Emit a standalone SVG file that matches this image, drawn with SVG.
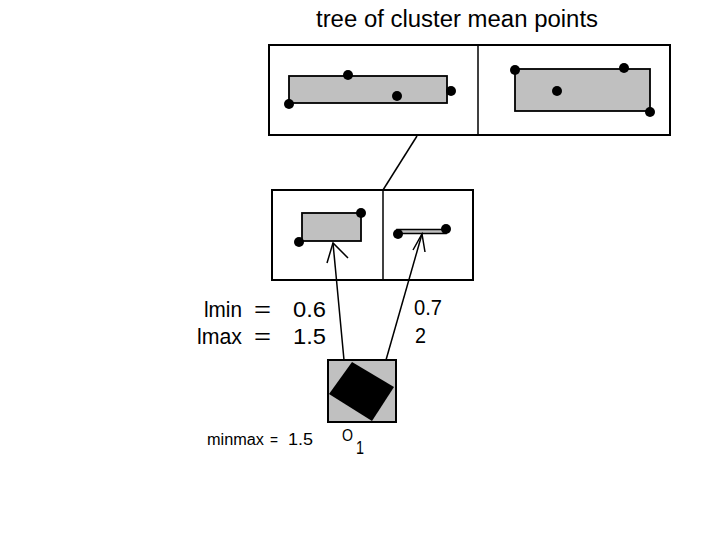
<svg xmlns="http://www.w3.org/2000/svg" width="720" height="540" viewBox="0 0 720 540">
<style>
.box{fill:#fff;stroke:#000;stroke-width:2}
.g{fill:#c0c0c0;stroke:#000;stroke-width:1.8}
.dot{fill:#000}
.ln{stroke:#000;stroke-width:1.5;fill:none}
text{font-family:"Liberation Sans",Arial,sans-serif;fill:#000}
.big{font-size:22px}
.sm{font-size:16px}
</style>
<rect width="720" height="540" fill="#fff"/>
<text x="316" y="27" font-size="23" textLength="282" lengthAdjust="spacingAndGlyphs">tree of cluster mean points</text>
<g id="root">
<rect class="box" x="269" y="45" width="401" height="90"/>
<line class="ln" x1="478" y1="45" x2="478" y2="135" stroke-width="2"/>
<rect class="g" x="289" y="76" width="158" height="27"/>
<circle class="dot" cx="289" cy="104" r="5"/>
<circle class="dot" cx="348" cy="75" r="5"/>
<circle class="dot" cx="397" cy="96" r="5"/>
<circle class="dot" cx="451" cy="91" r="5"/>
<rect class="g" x="515" y="69" width="135" height="42"/>
<circle class="dot" cx="515" cy="70" r="5"/>
<circle class="dot" cx="624" cy="68" r="5"/>
<circle class="dot" cx="557" cy="91" r="5"/>
<circle class="dot" cx="650" cy="112" r="5"/>
</g>
<g id="child">
<rect class="box" x="272" y="190" width="201" height="90"/>
<line class="ln" x1="383" y1="190" x2="383" y2="280" stroke-width="2"/>
<rect class="g" x="302" y="213" width="59" height="28"/>
<circle class="dot" cx="299" cy="242" r="5"/>
<circle class="dot" cx="361" cy="213" r="5"/>
<rect x="397" y="229.5" width="49" height="4" fill="#c0c0c0" stroke="#000" stroke-width="1.5"/>
<circle class="dot" cx="398" cy="234" r="5"/>
<circle class="dot" cx="446" cy="229" r="5"/>
</g>
<g id="query">
<rect x="328" y="360" width="68" height="62" fill="#c0c0c0" stroke="#000" stroke-width="2"/>
<polygon points="352,362 394,387 372,421 329,394" fill="#000"/>
</g>
<g id="connectors">
<line class="ln" x1="417" y1="136" x2="383" y2="190"/>
<line class="ln" x1="344" y1="360" x2="333" y2="243"/>
<polyline class="ln" points="327,263 333,243 348,258"/>
<line class="ln" x1="386" y1="360" x2="422" y2="234"/>
<polyline class="ln" points="413,250 422,234 425,252"/>
</g>
<g id="labels">
<text class="big" x="204" y="317" textLength="38" lengthAdjust="spacingAndGlyphs">lmin</text>
<text class="big" x="254" y="317" textLength="17" lengthAdjust="spacingAndGlyphs">=</text>
<text class="big" x="293" y="317" textLength="33" lengthAdjust="spacingAndGlyphs">0.6</text>
<text class="big" x="197" y="344" textLength="45" lengthAdjust="spacingAndGlyphs">lmax</text>
<text class="big" x="254" y="344" textLength="17" lengthAdjust="spacingAndGlyphs">=</text>
<text class="big" x="293" y="344" textLength="33" lengthAdjust="spacingAndGlyphs">1.5</text>
<text class="big" x="414" y="315" textLength="28" lengthAdjust="spacingAndGlyphs">0.7</text>
<text class="big" x="415" y="343" textLength="11" lengthAdjust="spacingAndGlyphs">2</text>
<text class="sm" x="207" y="445" textLength="57" lengthAdjust="spacingAndGlyphs">minmax</text>
<text class="sm" x="270" y="445" textLength="8" lengthAdjust="spacingAndGlyphs">=</text>
<text class="sm" x="288" y="445" textLength="25" lengthAdjust="spacingAndGlyphs">1.5</text>
<text x="342" y="441" font-size="16" textLength="11" lengthAdjust="spacingAndGlyphs">O</text>
<text x="356" y="454" font-size="19" textLength="8" lengthAdjust="spacingAndGlyphs">1</text>
</g>
</svg>
